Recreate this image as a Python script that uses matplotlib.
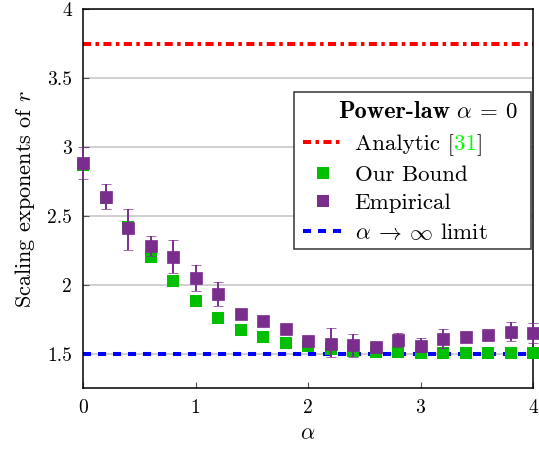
import matplotlib
matplotlib.use("Agg")
import matplotlib.pyplot as plt
from matplotlib.lines import Line2D
from matplotlib.patches import Rectangle
from matplotlib.offsetbox import TextArea, HPacker
import numpy as np

plt.rcParams["font.family"] = "serif"
plt.rcParams["font.serif"] = ["cmr10", "DejaVu Serif"]
plt.rcParams["mathtext.fontset"] = "cm"
plt.rcParams["axes.formatter.use_mathtext"] = True
plt.rcParams["lines.scale_dashes"] = False

# Scaling exponents of r versus alpha
alpha = [0.0, 0.2, 0.4, 0.6, 0.8, 1.0, 1.2, 1.4, 1.6, 1.8, 2.0,
         2.2, 2.4, 2.6, 2.8, 3.0, 3.2, 3.4, 3.6, 3.8, 4.0]
our_bound = [2.87, 2.63, 2.42, 2.20, 2.03, 1.88, 1.76, 1.674, 1.618, 1.575, 1.554,
             1.53, 1.52, 1.515, 1.51, 1.507, 1.507, 1.505, 1.505, 1.505, 1.505]
empirical = [2.886, 2.639, 2.409, 2.28, 2.20, 2.052, 1.936, 1.788, 1.735, 1.676, 1.594,
             1.572, 1.56, 1.548, 1.596, 1.553, 1.609, 1.62, 1.638, 1.66, 1.65]
emp_err_low = [0.114, 0.088, 0.159, 0.07, 0.114, 0.097, 0.09, 0.03, 0.03, 0.03, 0.03,
               0.10, 0.085, 0.03, 0.045, 0.04, 0.07, 0.03, 0.03, 0.07, 0.073]
emp_err_high = [0.114, 0.09, 0.142, 0.073, 0.124, 0.092, 0.084, 0.03, 0.03, 0.03, 0.03,
                0.112, 0.082, 0.03, 0.054, 0.06, 0.07, 0.03, 0.03, 0.07, 0.072]
analytic_value = 3.75
limit_value = 1.5

x_ticks = [0, 1, 2, 3, 4]
y_ticks = [1.5, 2, 2.5, 3, 3.5, 4]

GREEN = "#00c000"
PURPLE = "#7b2d8e"
RED_DASH = (5.8, 3.2, 2.5, 3.2)
BLUE_DASH = (5.8, 5.0)
FS = 16.5

fig = plt.figure(figsize=(5.39, 4.5), dpi=100)
ax = fig.add_axes([0.154, 0.1378, 0.835, 0.8411])

ax.set_xlim(0, 4)
ax.set_ylim(1.25, 4)
ax.set_xticks(x_ticks)
ax.set_yticks(y_ticks)
ax.set_xticklabels([str(t) for t in x_ticks])
ax.set_yticklabels(["1.5", "2", "2.5", "3", "3.5", "4"])
ax.tick_params(direction="in", length=4, width=0.8, colors="#555555",
               labelcolor="black", labelsize=14, top=False, right=False, pad=8)
ax.yaxis.grid(True, color="#c8c8c8", linewidth=1.2, zorder=0)
ax.set_axisbelow(True)
for sp in ax.spines.values():
    sp.set_linewidth(1.1)
    sp.set_color("black")

ax.plot([0, 4], [analytic_value, analytic_value], color="#ff0000", lw=2.9,
        dashes=RED_DASH, zorder=2)
ax.plot([0, 4], [limit_value, limit_value], color="#0000ff", lw=2.9,
        dashes=BLUE_DASH, zorder=2)

ax.plot(alpha, our_bound, linestyle="none", marker="s", markersize=8.5,
        color=GREEN, markeredgewidth=0, zorder=3, clip_on=False)
ax.errorbar(alpha, empirical, yerr=[emp_err_low, emp_err_high], fmt="s",
            markersize=8.0, color=PURPLE, mec=PURPLE, mew=0.5, ecolor=PURPLE,
            elinewidth=1.4, capsize=3.8, capthick=1.4, zorder=4, clip_on=False)

ax.set_xlabel(r"$\alpha$", fontsize=16, labelpad=5)
ax.set_ylabel(r"Scaling exponents of $r$", fontsize=16, labelpad=7)

# Legend frame drawn separately so it can be sized independently of its entries
ax.add_patch(Rectangle((0.4689, 0.367), 0.5267, 0.415, transform=ax.transAxes,
                       facecolor="white", edgecolor="#333333", linewidth=1.1,
                       zorder=5))

handles = [
    Line2D([], [], color="#ff0000", lw=2.9, dashes=RED_DASH),
    Line2D([], [], linestyle="none", marker="s", markersize=8, color=GREEN,
           markeredgewidth=0),
    Line2D([], [], linestyle="none", marker="s", markersize=8, color=PURPLE,
           markeredgewidth=0),
    Line2D([], [], color="#0000ff", lw=2.9, dashes=BLUE_DASH),
]
labels = ["Analytic [31]", "Our Bound", "Empirical",
          r"$\alpha \: \rightarrow \: \infty$ limit"]
leg = ax.legend(handles, labels, loc="upper left", bbox_to_anchor=(0.489, 0.671),
                borderaxespad=0, borderpad=0, fontsize=FS, frameon=False,
                handlelength=1.7, handletextpad=0.55, labelspacing=0.38)
leg.set_zorder(6)

# Give the citation number its own colour inside the first legend label
first_text = leg.texts[0]
for box in leg._legend_handle_box.get_children():
    for row in box.get_children():
        kids = row.get_children()
        if len(kids) == 2 and isinstance(kids[1], TextArea) and kids[1]._text is first_text:
            props = dict(fontsize=FS, family="serif")
            parts = [TextArea("Analytic [", textprops=props),
                     TextArea("31", textprops=dict(color="#00ff00", **props)),
                     TextArea("]", textprops=props)]
            packed = HPacker(children=parts, align="baseline", pad=0, sep=0)
            packed.set_figure(fig)
            row._children[1] = packed

# Legend heading
ax.text(0.8156, 0.713, "Power-law", family="cmb10", fontsize=17.5,
        transform=ax.transAxes, ha="right", va="baseline", zorder=7)
ax.text(0.9667, 0.713, r"$\alpha \: = \: 0$", fontsize=FS,
        transform=ax.transAxes, ha="right", va="baseline", zorder=7)

fig.savefig("out.png", dpi=100)
